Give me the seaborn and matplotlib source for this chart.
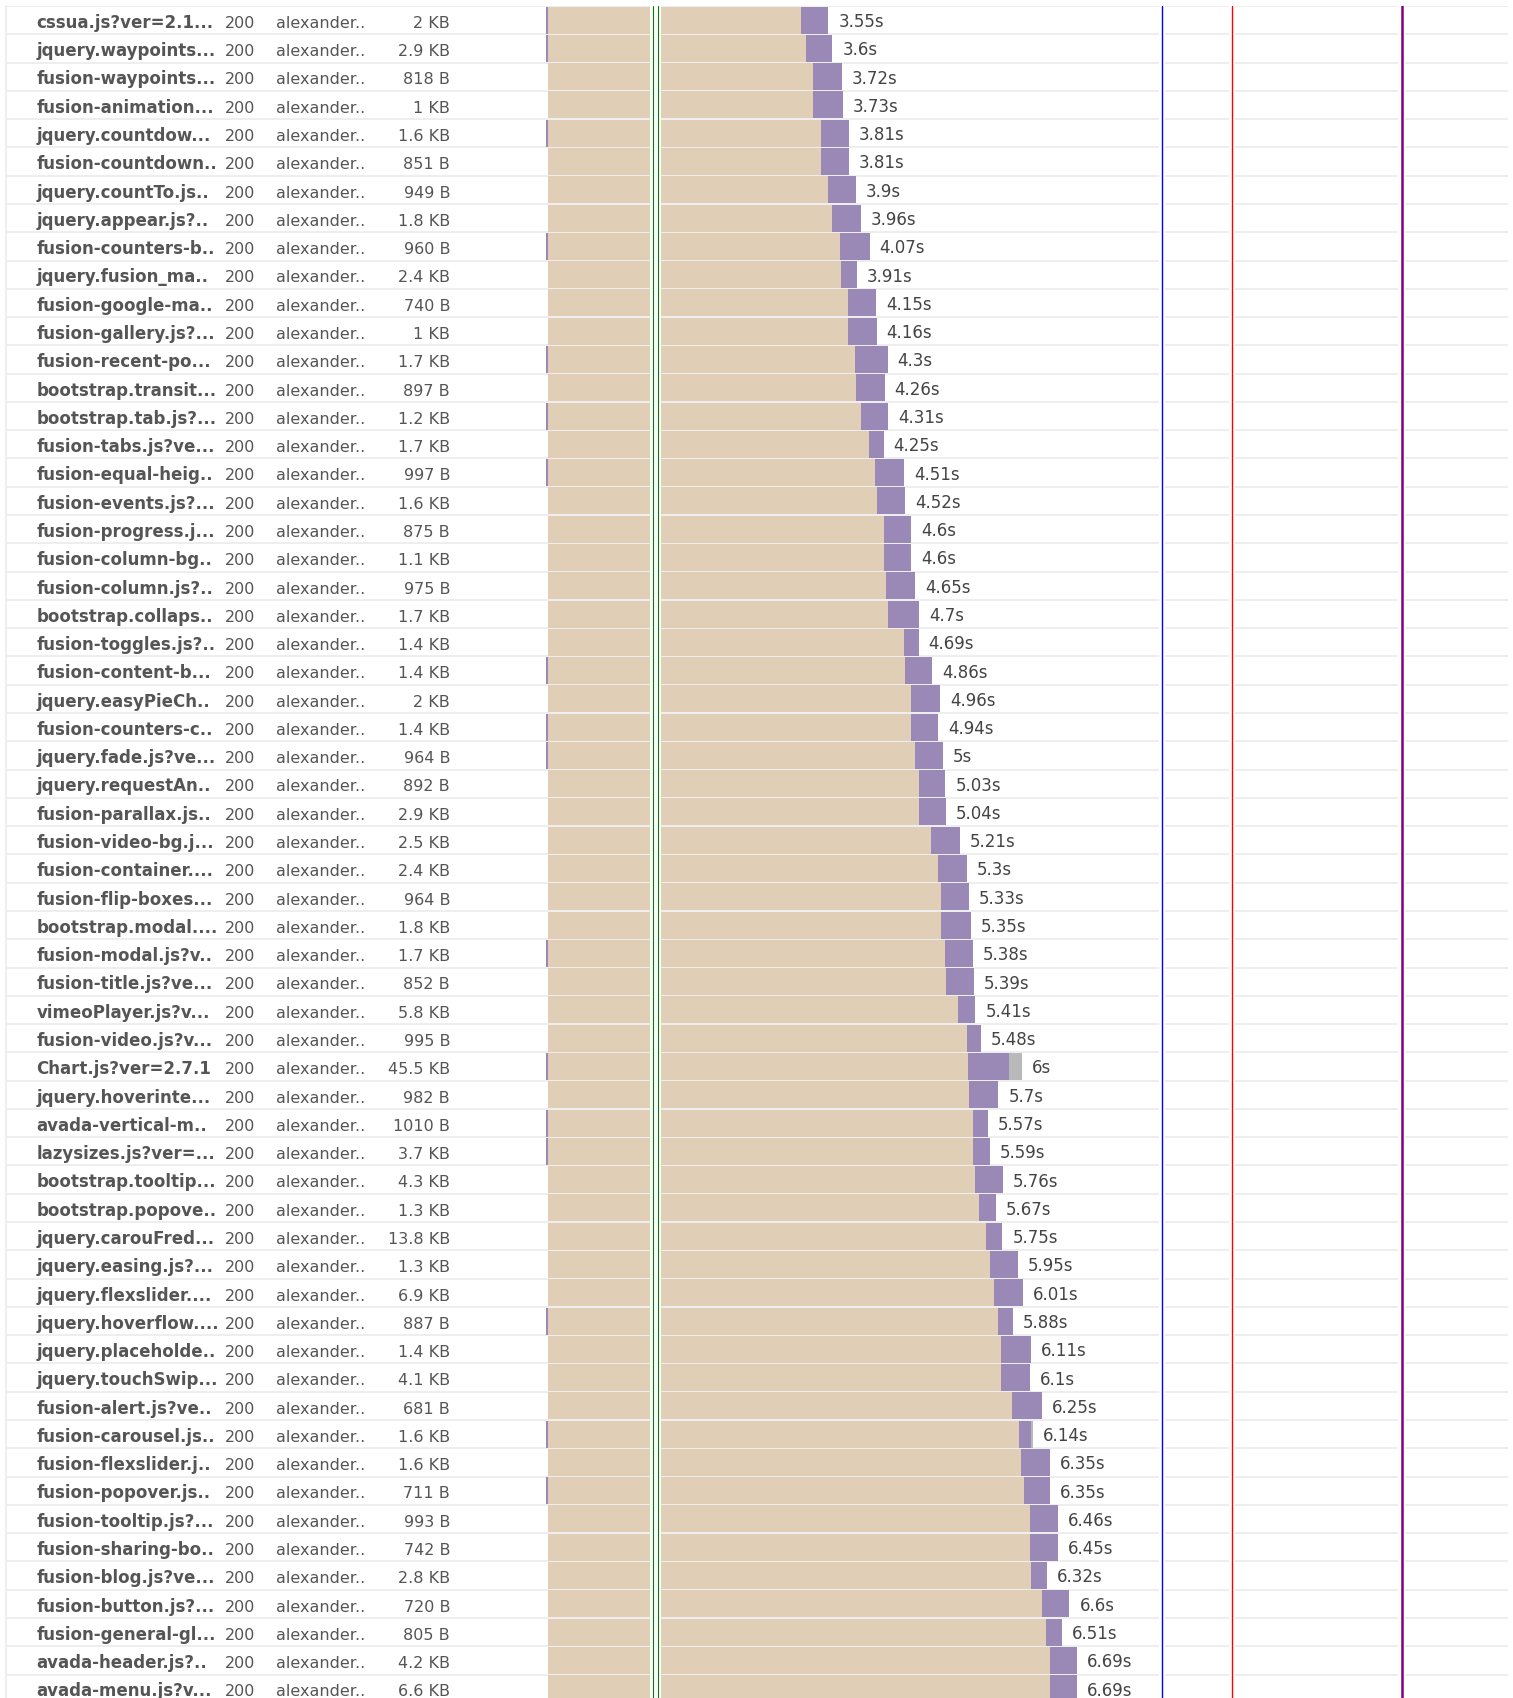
import matplotlib.pyplot as plt
import seaborn as sns
import pandas as pd
import numpy as np

# request table
files = [
    "cssua.js?ver=2.1...", "jquery.waypoints...", "fusion-waypoints...", "fusion-animation...",
    "jquery.countdow...", "fusion-countdown..", "jquery.countTo.js..", "jquery.appear.js?..",
    "fusion-counters-b..", "jquery.fusion_ma..", "fusion-google-ma..", "fusion-gallery.js?...",
    "fusion-recent-po...", "bootstrap.transit...", "bootstrap.tab.js?...", "fusion-tabs.js?ve...",
    "fusion-equal-heig..", "fusion-events.js?...", "fusion-progress.j...", "fusion-column-bg..",
    "fusion-column.js?..", "bootstrap.collaps..", "fusion-toggles.js?..", "fusion-content-b...",
    "jquery.easyPieCh..", "fusion-counters-c..", "jquery.fade.js?ve...", "jquery.requestAn..",
    "fusion-parallax.js..", "fusion-video-bg.j...", "fusion-container....", "fusion-flip-boxes...",
    "bootstrap.modal....", "fusion-modal.js?v..", "fusion-title.js?ve...", "vimeoPlayer.js?v...",
    "fusion-video.js?v...", "Chart.js?ver=2.7.1", "jquery.hoverinte...", "avada-vertical-m..",
    "lazysizes.js?ver=...", "bootstrap.tooltip...", "bootstrap.popove..", "jquery.carouFred...",
    "jquery.easing.js?...", "jquery.flexslider....", "jquery.hoverflow....", "jquery.placeholde..",
    "jquery.touchSwip...", "fusion-alert.js?ve..", "fusion-carousel.js..", "fusion-flexslider.j..",
    "fusion-popover.js..", "fusion-tooltip.js?...", "fusion-sharing-bo..", "fusion-blog.js?ve...",
    "fusion-button.js?...", "fusion-general-gl...", "avada-header.js?..", "avada-menu.js?v...",
]
status = ["200"] * len(files)
domain = ["alexander.."] * len(files)
sizes = [
    "2 KB", "2.9 KB", "818 B", "1 KB", "1.6 KB", "851 B", "949 B", "1.8 KB", "960 B", "2.4 KB",
    "740 B", "1 KB", "1.7 KB", "897 B", "1.2 KB", "1.7 KB", "997 B", "1.6 KB", "875 B", "1.1 KB",
    "975 B", "1.7 KB", "1.4 KB", "1.4 KB", "2 KB", "1.4 KB", "964 B", "892 B", "2.9 KB", "2.5 KB",
    "2.4 KB", "964 B", "1.8 KB", "1.7 KB", "852 B", "5.8 KB", "995 B", "45.5 KB", "982 B", "1010 B",
    "3.7 KB", "4.3 KB", "1.3 KB", "13.8 KB", "1.3 KB", "6.9 KB", "887 B", "1.4 KB", "4.1 KB", "681 B",
    "1.6 KB", "1.6 KB", "711 B", "993 B", "742 B", "2.8 KB", "720 B", "805 B", "4.2 KB", "6.6 KB",
]

# timings in seconds from request start
durations = [
    3.55, 3.6, 3.72, 3.73, 3.81, 3.81, 3.9, 3.96, 4.07, 3.91,
    4.15, 4.16, 4.3, 4.26, 4.31, 4.25, 4.51, 4.52, 4.6, 4.6,
    4.65, 4.7, 4.69, 4.86, 4.96, 4.94, 5, 5.03, 5.04, 5.21,
    5.3, 5.33, 5.35, 5.38, 5.39, 5.41, 5.48, 6, 5.7, 5.57,
    5.59, 5.76, 5.67, 5.75, 5.95, 6.01, 5.88, 6.11, 6.1, 6.25,
    6.14, 6.35, 6.35, 6.46, 6.45, 6.32, 6.6, 6.51, 6.69, 6.69,
]
download_start = [
    3.2, 3.26, 3.36, 3.36, 3.45, 3.46, 3.55, 3.59, 3.7, 3.71,
    3.8, 3.8, 3.89, 3.9, 3.96, 4.06, 4.14, 4.16, 4.25, 4.25,
    4.28, 4.31, 4.5, 4.52, 4.59, 4.59, 4.65, 4.69, 4.69, 4.85,
    4.94, 4.97, 4.98, 5.03, 5.04, 5.19, 5.3, 5.32, 5.33, 5.38,
    5.38, 5.4, 5.46, 5.55, 5.59, 5.65, 5.7, 5.74, 5.74, 5.87,
    5.96, 5.99, 6.02, 6.1, 6.1, 6.12, 6.25, 6.31, 6.35, 6.35,
]
execution = {37: 0.16, 50: 0.02}
blocked_rows = [0, 1, 4, 8, 12, 14, 16, 23, 25, 26, 33, 37, 39, 40, 46, 50, 52]

event_times = [1.335, 1.392, 7.776, 8.662, 10.806]
event_colors = ["#008000", "#008000", "#0000ff", "#ff0000", "#800080"]
event_widths = [0.8, 0.8, 1.0, 1.0, 1.8]

TAN = "#e0cfb6"
PURPLE = "#9a89b6"
GRAY = "#b9b9b9"
GRID = "#eeeeee"
TEXT = "#555555"

n = len(files)
download_end = [d - execution.get(i, 0) for i, d in enumerate(durations)]
df = pd.DataFrame({
    "row": [str(i) for i in range(n)],
    "end": durations,
    "dl_end": download_end,
    "dl_start": download_start,
})

sns.set_style("white")
plt.rcParams["font.family"] = ["DejaVu Sans"]

W, H = 1513, 1699
row_h, top = 28.28, 7
fig = plt.figure(figsize=(W / 100, H / 100), dpi=100)
bottom = (H - top - n * row_h) / H
ax_tab = fig.add_axes([6 / W, bottom, (540 - 6) / W, n * row_h / H])
ax_wf = fig.add_axes([540 / W, bottom, (1508 - 540) / W, n * row_h / H])

# waterfall bars: gray (execution) under purple (download) under tan (waiting)
for col, c in [("end", GRAY), ("dl_end", PURPLE), ("dl_start", TAN)]:
    sns.barplot(data=df, x=col, y="row", order=df["row"], color=c, saturation=1,
                errorbar=None, width=0.955, linewidth=0, ax=ax_wf)
ax_wf.barh(blocked_rows, 0.015, left=-0.02, height=0.955, color=PURPLE, lw=0)

px_per_s = 79.0
ax_wf.set_xlim(-8 / px_per_s, 960 / px_per_s)
for ax in (ax_tab, ax_wf):
    ax.set_ylim(n - 0.5, -0.5)
    for b in np.arange(-0.5, n):
        ax.axhline(b, color=GRID, lw=1.44, zorder=0)
    ax.axis("off")

for t, c, w in zip(event_times, event_colors, event_widths):
    gap = (2.5 + w / 0.72 / 2) / px_per_s
    ax_wf.axvspan(t - gap, t + gap, color="white", lw=0, zorder=3)
for t, c, w in zip(event_times, event_colors, event_widths):
    ax_wf.axvline(t, color=c, lw=w, zorder=4)

for i, d in enumerate(durations):
    ax_wf.annotate(f"{d:g}s", xy=(d, i + 0.21), xytext=(7.2, 0), textcoords="offset points",
                   va="baseline", ha="left", fontsize=12, color="#444444")

ax_tab.set_xlim(6, 540)
ax_tab.axvline(6, color=GRID, lw=1.44, clip_on=False)
for i in range(n):
    y = i + 0.24
    ax_tab.text(36.5, y, files[i], fontsize=12, fontweight="bold", color=TEXT, va="baseline")
    ax_tab.text(225, y, status[i], fontsize=11.5, color=TEXT, va="baseline")
    ax_tab.text(276, y, domain[i], fontsize=11.5, color=TEXT, va="baseline")
    ax_tab.text(450, y, sizes[i], fontsize=11.5, color=TEXT, va="baseline", ha="right")

fig.savefig("out.png", dpi=100, facecolor="white")
